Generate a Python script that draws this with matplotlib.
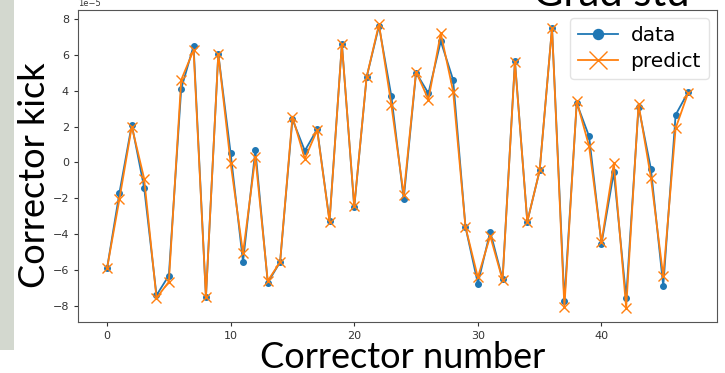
import numpy as np
import matplotlib
matplotlib.use("Agg")
import matplotlib.pyplot as plt
from matplotlib.patches import Rectangle

# corrector kicks, in units of 1e-5
data = [-5.9, -1.7, 2.1, -1.4, -7.4, -6.3, 4.1, 6.5, -7.5, 6.05,
        0.5, -5.55, 0.7, -6.7, -5.55, 2.4, 0.65, 1.85, -3.25, 6.6,
        -2.5, 4.75, 7.6, 3.7, -2.05, 5.0, 3.85, 6.75, 4.6, -3.6,
        -6.75, -3.85, -6.5, 5.65, -3.3, -0.45, 7.5, -7.7, 3.3, 1.45,
        -4.55, -0.55, -7.55, 3.1, -0.35, -6.9, 2.65, 3.9]
predict = [-5.9, -2.05, 2.0, -0.9, -7.55, -6.65, 4.6, 6.25, -7.5, 6.05,
           -0.05, -5.05, 0.3, -6.6, -5.55, 2.55, 0.2, 1.8, -3.3, 6.6,
           -2.45, 4.75, 7.7, 3.2, -1.8, 5.05, 3.5, 7.2, 3.95, -3.6,
           -6.4, -4.1, -6.55, 5.6, -3.3, -0.45, 7.5, -8.05, 3.4, 0.9,
           -4.45, -0.05, -8.1, 3.25, -0.85, -6.35, 1.9, 3.85]
scale = 1e-5

idx = np.arange(len(data))

fig = plt.figure(figsize=(7.25, 3.73), dpi=100)
ax = fig.add_axes([0.1076, 0.1367, 0.8814, 0.8365])

ax.plot(idx, np.array(data) * scale, "o-", color="#1f77b4", lw=1.3,
        ms=4, label="data")
ax.plot(idx, np.array(predict) * scale, "x-", color="#ff7f0e", lw=1.3,
        ms=7, mew=1.0, label="predict")

ax.set_xticks([0, 10, 20, 30, 40])
ax.set_yticks(np.arange(-8, 9, 2) * scale)
ax.tick_params(labelsize=8, colors="#333333", length=3)
ax.yaxis.get_offset_text().set_fontsize(6)
for s in ax.spines.values():
    s.set_color("#555555")

leg = ax.legend(loc="upper right", fontsize=14.5, markerscale=1.8,
                handlelength=2.0, borderpad=0.4, labelspacing=0.35,
                handletextpad=0.6, borderaxespad=0.4)
leg.get_frame().set_edgecolor("#dddddd")

# slide text around the chart
fig.text(0.048, 0.53, "Corrector kick", rotation=90, family="Lato",
         fontsize=26, ha="center", va="center", color="black")
fig.text(0.556, 0.042, "Corrector number", family="Lato",
         fontsize=26, ha="center", va="center", color="black")
fig.text(0.735, 1 - 6 / 373, "Grad stu", family="Lato", fontsize=30,
         ha="left", va="baseline", color="black")

# photo strip on the slide's left edge
fig.patches.append(Rectangle((0, 23 / 373), 14 / 725, 1, transform=fig.transFigure,
                             facecolor="#d3d8cf", edgecolor="none", zorder=-1))

fig.savefig("out.png", dpi=100)
